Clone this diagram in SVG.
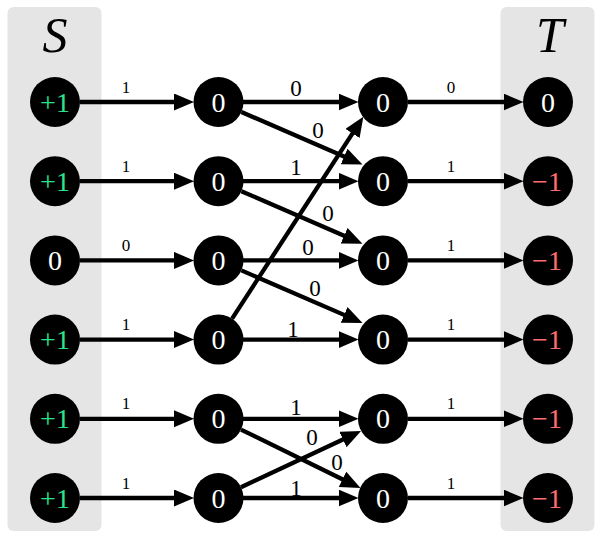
<svg xmlns="http://www.w3.org/2000/svg" width="598" height="539" viewBox="0 0 598 539">
<defs>
<marker id="ah" markerUnits="userSpaceOnUse" markerWidth="22" markerHeight="18" refX="10" refY="8.5" orient="auto">
<path d="M0,0 L20,8.5 L0,17 Z" fill="#000"/>
</marker>
<style>
.panel{fill:#e5e5e5}
.n circle{fill:#000}
.nt{font-family:"Liberation Serif","Times New Roman",serif;font-size:28px;text-anchor:middle;fill:#fff}
.g{fill:#2de38a}
.r{fill:#ff6e6e}
.e line{stroke:#000;stroke-width:4.3;marker-end:url(#ah)}
.ls{font-family:"Liberation Serif","Times New Roman",serif;font-size:17px;text-anchor:middle;fill:#000}
.lm{font-family:"Liberation Serif","Times New Roman",serif;font-size:23px;text-anchor:middle;fill:#000}
.ttl{font-family:"Liberation Serif","Times New Roman",serif;font-size:50px;font-style:italic;text-anchor:middle;fill:#000}
</style>
</defs>
<g id="panels">
<rect class="panel" x="7.5" y="7" width="94" height="524" rx="6"/>
<rect class="panel" x="500.5" y="7" width="94" height="524" rx="6"/>
<text class="ttl" x="55" y="52">S</text>
<text class="ttl" x="550" y="52">T</text>
</g>
<g id="edges" class="e">
<line x1="80" y1="102" x2="184" y2="102"/>
<line x1="80" y1="181.2" x2="184" y2="181.2"/>
<line x1="80" y1="260.4" x2="184" y2="260.4"/>
<line x1="80" y1="339.6" x2="184" y2="339.6"/>
<line x1="80" y1="418.8" x2="184" y2="418.8"/>
<line x1="80" y1="498" x2="184" y2="498"/>
<line x1="243" y1="102" x2="348.5" y2="102"/>
<line x1="243" y1="181.2" x2="348.5" y2="181.2"/>
<line x1="243" y1="260.4" x2="348.5" y2="260.4"/>
<line x1="243" y1="339.6" x2="348.5" y2="339.6"/>
<line x1="243" y1="418.8" x2="348.5" y2="418.8"/>
<line x1="243" y1="498" x2="348.5" y2="498"/>
<line x1="241.4" y1="112" x2="353.3" y2="160.5"/>
<line x1="241.4" y1="191.2" x2="353.3" y2="239.7"/>
<line x1="241.4" y1="270.4" x2="353.3" y2="318.9"/>
<line x1="232.1" y1="318.6" x2="357.9" y2="125.1"/>
<line x1="241" y1="429.6" x2="351.5" y2="483.7"/>
<line x1="241" y1="487.2" x2="352" y2="435.3"/>
<line x1="408" y1="102" x2="513.5" y2="102"/>
<line x1="408" y1="181.2" x2="513.5" y2="181.2"/>
<line x1="408" y1="260.4" x2="513.5" y2="260.4"/>
<line x1="408" y1="339.6" x2="513.5" y2="339.6"/>
<line x1="408" y1="418.8" x2="513.5" y2="418.8"/>
<line x1="408" y1="498" x2="513.5" y2="498"/>
</g>
<g id="edge-labels">
<text class="ls" x="126" y="93">1</text>
<text class="ls" x="126" y="172">1</text>
<text class="ls" x="126" y="251">0</text>
<text class="ls" x="126" y="330">1</text>
<text class="ls" x="126" y="409">1</text>
<text class="ls" x="126" y="489">1</text>
<text class="lm" x="296" y="96">0</text>
<text class="lm" x="296" y="175">1</text>
<text class="lm" x="308" y="255">0</text>
<text class="lm" x="293" y="337">1</text>
<text class="lm" x="296" y="415">1</text>
<text class="lm" x="296" y="496">1</text>
<text class="lm" x="318" y="138">0</text>
<text class="lm" x="328" y="221">0</text>
<text class="lm" x="315" y="296">0</text>
<text class="lm" x="312" y="445">0</text>
<text class="lm" x="337" y="470">0</text>
<text class="ls" x="451" y="93">0</text>
<text class="ls" x="451" y="172">1</text>
<text class="ls" x="451" y="251">1</text>
<text class="ls" x="451" y="330">1</text>
<text class="ls" x="451" y="409">1</text>
<text class="ls" x="451" y="489">1</text>
</g>
<g id="s0" class="n"><circle cx="55" cy="102" r="25"/><text class="nt g" x="55" y="111.5">+1</text></g>
<g id="s1" class="n"><circle cx="55" cy="181.2" r="25"/><text class="nt g" x="55" y="190.7">+1</text></g>
<g id="s2" class="n"><circle cx="55" cy="260.4" r="25"/><text class="nt" x="55" y="269.9">0</text></g>
<g id="s3" class="n"><circle cx="55" cy="339.6" r="25"/><text class="nt g" x="55" y="349.1">+1</text></g>
<g id="s4" class="n"><circle cx="55" cy="418.8" r="25"/><text class="nt g" x="55" y="428.3">+1</text></g>
<g id="s5" class="n"><circle cx="55" cy="498" r="25"/><text class="nt g" x="55" y="507.5">+1</text></g>
<g id="a0" class="n"><circle cx="218.5" cy="102" r="25"/><text class="nt" x="218.5" y="111.5">0</text></g>
<g id="a1" class="n"><circle cx="218.5" cy="181.2" r="25"/><text class="nt" x="218.5" y="190.7">0</text></g>
<g id="a2" class="n"><circle cx="218.5" cy="260.4" r="25"/><text class="nt" x="218.5" y="269.9">0</text></g>
<g id="a3" class="n"><circle cx="218.5" cy="339.6" r="25"/><text class="nt" x="218.5" y="349.1">0</text></g>
<g id="a4" class="n"><circle cx="218.5" cy="418.8" r="25"/><text class="nt" x="218.5" y="428.3">0</text></g>
<g id="a5" class="n"><circle cx="218.5" cy="498" r="25"/><text class="nt" x="218.5" y="507.5">0</text></g>
<g id="b0" class="n"><circle cx="383" cy="102" r="25"/><text class="nt" x="383" y="111.5">0</text></g>
<g id="b1" class="n"><circle cx="383" cy="181.2" r="25"/><text class="nt" x="383" y="190.7">0</text></g>
<g id="b2" class="n"><circle cx="383" cy="260.4" r="25"/><text class="nt" x="383" y="269.9">0</text></g>
<g id="b3" class="n"><circle cx="383" cy="339.6" r="25"/><text class="nt" x="383" y="349.1">0</text></g>
<g id="b4" class="n"><circle cx="383" cy="418.8" r="25"/><text class="nt" x="383" y="428.3">0</text></g>
<g id="b5" class="n"><circle cx="383" cy="498" r="25"/><text class="nt" x="383" y="507.5">0</text></g>
<g id="t0" class="n"><circle cx="548" cy="102" r="25"/><text class="nt" x="548" y="111.5">0</text></g>
<g id="t1" class="n"><circle cx="548" cy="181.2" r="25"/><text class="nt r" x="547" y="190.7">−1</text></g>
<g id="t2" class="n"><circle cx="548" cy="260.4" r="25"/><text class="nt r" x="547" y="269.9">−1</text></g>
<g id="t3" class="n"><circle cx="548" cy="339.6" r="25"/><text class="nt r" x="547" y="349.1">−1</text></g>
<g id="t4" class="n"><circle cx="548" cy="418.8" r="25"/><text class="nt r" x="547" y="428.3">−1</text></g>
<g id="t5" class="n"><circle cx="548" cy="498" r="25"/><text class="nt r" x="547" y="507.5">−1</text></g>
</svg>
